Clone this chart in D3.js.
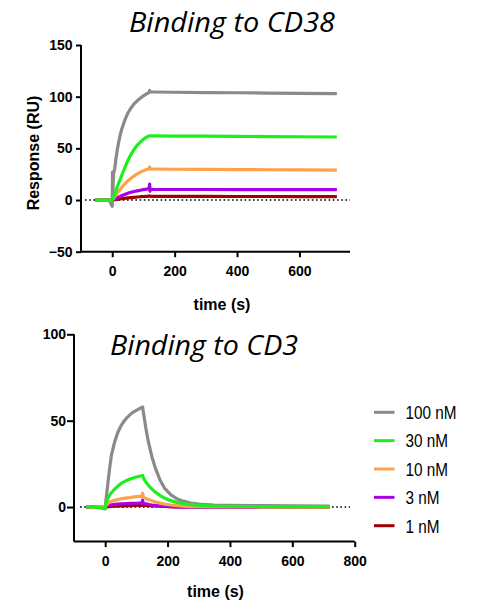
<!DOCTYPE html>
<html>
<head>
<meta charset="utf-8">
<script src="https://cdn.jsdelivr.net/npm/d3@7"></script>
<style>
  html, body { margin: 0; padding: 0; background: #fff; }
  svg { display: block; }
</style>
</head>
<body>
<svg id="chart" width="482" height="601"></svg>
<script>
// ---- Sensorgram data (time in s, response in RU) ----
const concentrations = ["100 nM", "30 nM", "10 nM", "3 nM", "1 nM"];
const seriesColors = ["#8a8a8a", "#1cf01c", "#ffa04c", "#aa00e4", "#a20000"];

// Binding to CD38
const cd38Time = [-55, -30, -10, 0, 1, 2, 4, 8, 12, 16, 20, 25, 30, 40, 50, 60, 70, 80, 90, 100, 110, 118, 120, 121, 123, 130, 200, 300, 400, 500, 600, 720];
const cd38_100nM = [0, 0, 0, -6, 27, 6, 25, 30, 40, 48, 55, 62, 68, 77, 84, 89, 93, 96, 98.5, 100.8, 102.7, 104, 106, 104.5, 104.5, 104.5, 104.3, 104, 103.8, 103.5, 103.2, 103];
const cd38_30nM  = [0, 0, 0, 0, 0.5, 1.2, 2.6, 5.8, 9, 12.5, 16, 19.5, 23.5, 31, 38, 44, 49, 53, 56, 58.8, 60.8, 61.9, 62.2, 62, 62, 62, 61.9, 61.8, 61.6, 61.4, 61.2, 61];
const cd38_10nM  = [0, 0, 0, 0, 0.3, 0.6, 1.4, 3.2, 5, 6.6, 8.2, 10, 12, 15.5, 18.5, 21, 23.3, 25.3, 27, 28.4, 29.5, 30.2, 32, 30, 30, 30, 29.8, 29.6, 29.5, 29.3, 29.2, 29];
const cd38_3nM   = [0, 0, 0, 0, 0.1, 0.2, 0.5, 1.1, 1.7, 2.3, 2.9, 3.5, 4.2, 5.4, 6.5, 7.5, 8.3, 8.9, 9.5, 10, 10.5, 11, 15.5, 8.5, 10.4, 10.3, 10.2, 10.2, 10.1, 10.1, 10, 10];
const cd38_1nM   = [0, 0, 0, 0, 0.05, 0.1, 0.2, 0.3, 0.5, 0.6, 0.8, 1, 1.2, 1.6, 2, 2.3, 2.6, 2.9, 3.2, 3.4, 3.6, 3.8, 3.8, 3.7, 3.6, 3.6, 3.5, 3.5, 3.4, 3.4, 3.3, 3.3];

// Binding to CD3
const cd3Time = [-60, -40, -20, 0, 2, 5, 10, 15, 20, 30, 40, 50, 60, 70, 80, 90, 100, 110, 118, 120, 122, 125, 130, 135, 140, 150, 160, 175, 190, 210, 230, 250, 275, 300, 350, 400, 500, 600, 720];
const cd3_100nM = [0, -0.4, 0.3, -1, 3, 8, 16, 23.5, 30, 37.5, 43, 46.8, 49.6, 51.8, 53.5, 55, 56, 57, 57.6, 58, 55.5, 52, 46, 41, 36.5, 29, 23, 16, 11, 7.2, 4.8, 3.4, 2.3, 1.7, 1.2, 1.0, 0.8, 0.7, 0.6];
const cd3_30nM  = [0, 0.2, -0.3, -1, 1.5, 3.5, 5.5, 7, 8.3, 10.3, 12, 13.5, 14.6, 15.5, 16.2, 16.8, 17.4, 17.8, 18.1, 18.3, 17.3, 16, 14.6, 13.4, 12.3, 10.4, 8.8, 6.8, 5.2, 3.7, 2.7, 2, 1.4, 1.0, 0.6, 0.4, 0.3, 0.2, 0.2];
const cd3_10nM  = [0.3, -0.2, 0.4, 0, 0.8, 1.5, 2.3, 2.9, 3.3, 3.9, 4.3, 4.7, 5, 5.3, 5.5, 5.8, 6, 6.2, 6.3, 8, 5.9, 5.5, 5, 4.6, 4.3, 3.6, 3, 2.3, 1.7, 1.2, 0.8, 0.5, 0.3, 0.2, 0.1, 0.1, 0, 0, 0];
const cd3_3nM   = [0, 0.2, -0.2, 0, 0.3, 0.6, 0.9, 1.1, 1.3, 1.5, 1.7, 1.8, 1.9, 2, 2.1, 2.2, 2.2, 2.3, 2.3, 4, 2.1, 2, 1.8, 1.7, 1.5, 1.2, 1, 0.7, 0.5, 0.3, 0.1, 0, -0.1, -0.1, -0.2, -0.2, -0.2, -0.1, -0.1];
const cd3_1nM   = [0, 0, 0, 0, 0.05, 0.1, 0.2, 0.3, 0.35, 0.45, 0.55, 0.65, 0.7, 0.8, 0.85, 0.9, 0.95, 1, 1, 1.1, 1, 0.95, 0.9, 0.85, 0.8, 0.7, 0.6, 0.45, 0.35, 0.25, 0.15, 0.1, 0.05, 0, 0, 0, 0, 0, 0];

// Tick values
const cd38YTicks = [-50, 0, 50, 100, 150];
const cd38XTicks = [0, 200, 400, 600];
const cd3YTicks = [0, 50, 100];
const cd3XTicks = [0, 200, 400, 600, 800];

const svg = d3.select("#chart");
const tickFont = "'Liberation Sans', Arial, sans-serif";

function drawPanel(cfg) {
  const x = d3.scaleLinear().domain(cfg.xDomain).range(cfg.xRange);
  const y = d3.scaleLinear().domain(cfg.yDomain).range(cfg.yRange);
  const g = svg.append("g");

  // zero reference line
  g.append("line")
    .attr("x1", cfg.zeroFrom).attr("x2", cfg.zeroTo)
    .attr("y1", y(0)).attr("y2", y(0))
    .attr("stroke", "#000").attr("stroke-width", 1.6)
    .attr("stroke-dasharray", "1.6 2.6");

  // sensorgram traces: 100 nM first, then low to high with 30 nM on top
  const order = [0, 4, 3, 2, 1];
  const line = d3.line().x(d => x(d[0])).y(d => y(d[1]));
  order.forEach(i => {
    const pts = cfg.time.map((t, k) => [t, cfg.series[i][k]]);
    g.append("path")
      .datum(pts)
      .attr("d", line)
      .attr("fill", "none")
      .attr("stroke", seriesColors[i])
      .attr("stroke-width", 3.2)
      .attr("stroke-linejoin", "round");
  });

  // axes
  const yAxis = d3.axisLeft(y).tickValues(cfg.yTicks).tickSize(cfg.yTickSize).tickSizeOuter(0).tickPadding(cfg.yPad).tickFormat(d3.format("d"));
  const xAxis = d3.axisBottom(x).tickValues(cfg.xTicks).tickSize(5.5).tickSizeOuter(0).tickPadding(9).tickFormat(d3.format("d"));

  const ya = g.append("g").attr("transform", `translate(${cfg.xRange[0]},0)`).call(yAxis);
  const xa = g.append("g").attr("transform", `translate(0,${cfg.yRange[0]})`).call(xAxis);
  [ya, xa].forEach(a => {
    a.select(".domain").attr("stroke", "#000").attr("stroke-width", 2);
    a.selectAll(".tick line").attr("stroke", "#000").attr("stroke-width", 2);
    a.selectAll(".tick text")
      .attr("fill", "#000")
      .style("font-family", tickFont)
      .style("font-weight", "bold")
      .style("font-size", "14px");
  });
  // axis lines meet at the lower-left corner
  ya.select(".domain").attr("d", `M0,${cfg.yRange[0]}V${cfg.yRange[1]}`);
  xa.select(".domain").attr("d", `M${cfg.xRange[0]},0H${cfg.xRange[1]}`);

  // x axis title
  g.append("text")
    .attr("x", cfg.xTitleX).attr("y", cfg.xTitleY)
    .attr("text-anchor", "middle")
    .style("font-family", tickFont).style("font-weight", "bold").style("font-size", "16px")
    .text("time (s)");

  // panel title
  g.append("text")
    .attr("x", cfg.titleX).attr("y", cfg.titleY)
    .attr("textLength", cfg.titleLen).attr("lengthAdjust", "spacingAndGlyphs")
    .style("font-family", "'Open Sans', 'Noto Sans', sans-serif")
    .style("font-style", "italic").style("font-size", "27px")
    .text(cfg.title);

  return { x, y, g };
}

drawPanel({
  title: "Binding to CD38", titleX: 129, titleY: 32, titleLen: 206,
  time: cd38Time,
  series: [cd38_100nM, cd38_30nM, cd38_10nM, cd38_3nM, cd38_1nM],
  xDomain: [-100, 762], xRange: [81, 350],
  yDomain: [-50, 150], yRange: [251.7, 45],
  xTicks: cd38XTicks, yTicks: cd38YTicks,
  yTickSize: 5, yPad: 3.5,
  zeroFrom: 85, zeroTo: 350,
  xTitleX: 222, xTitleY: 310
});

// y axis title of the upper panel
svg.append("text")
  .attr("transform", "translate(38.5,153) rotate(-90)")
  .attr("text-anchor", "middle")
  .style("font-family", tickFont).style("font-weight", "bold").style("font-size", "16px")
  .text("Response (RU)");

drawPanel({
  title: "Binding to CD3", titleX: 110, titleY: 355, titleLen: 188,
  time: cd3Time,
  series: [cd3_100nM, cd3_30nM, cd3_10nM, cd3_3nM, cd3_1nM],
  xDomain: [-100, 800], xRange: [74, 354.7],
  yDomain: [-20, 100], yRange: [541.6, 334.3],
  xTicks: cd3XTicks, yTicks: cd3YTicks,
  yTickSize: 7, yPad: 1,
  zeroFrom: 80, zeroTo: 350,
  xTitleX: 215.5, xTitleY: 597
});

// legend
const legend = svg.append("g");
const legendY = d3.scalePoint().domain(concentrations).range([412.3, 525.7]);
concentrations.forEach((c, i) => {
  const cy = legendY(c);
  legend.append("line")
    .attr("x1", 374).attr("x2", 394.5)
    .attr("y1", cy).attr("y2", cy)
    .attr("stroke", seriesColors[i]).attr("stroke-width", 3);
  const t = legend.append("text")
    .attr("x", 405.5).attr("y", cy + 6.8)
    .style("font-family", tickFont).style("font-size", "18px")
    .attr("fill", "#000")
    .text(c);
  const w = t.node().getComputedTextLength();
  t.attr("textLength", w * 0.85).attr("lengthAdjust", "spacingAndGlyphs");
});
</script>
</body>
</html>
